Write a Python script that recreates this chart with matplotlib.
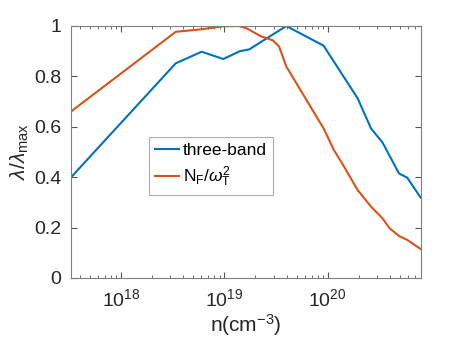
import numpy as np
import matplotlib
matplotlib.use("Agg")
import matplotlib.pyplot as plt
from matplotlib.ticker import FixedLocator, FixedFormatter, LogLocator, NullFormatter

# log10 of carrier density and normalised lambda
blue_logn = [17.45, 18.53, 18.78, 18.99, 19.15, 19.24, 19.41, 19.60, 19.96,
             20.29, 20.42, 20.53, 20.69, 20.77, 20.90]
blue_lam = [0.37, 0.852, 0.898, 0.869, 0.90, 0.907, 0.951, 1.0, 0.922,
            0.713, 0.593, 0.538, 0.415, 0.398, 0.319]

orange_logn = [17.45, 18.53, 18.78, 18.99, 19.14, 19.22, 19.35, 19.47, 19.53,
               19.60, 19.96, 20.06, 20.15, 20.29, 20.42, 20.53, 20.60, 20.69,
               20.77, 20.90]
orange_lam = [0.64, 0.977, 0.987, 0.999, 1.0, 0.99, 0.96, 0.943, 0.918,
              0.839, 0.594, 0.508, 0.448, 0.349, 0.283, 0.237, 0.197, 0.167,
              0.151, 0.115]

y_ticks = [0, 0.2, 0.4, 0.6, 0.8, 1]
y_tick_labels = ["0", "0.2", "0.4", "0.6", "0.8", "1"]

plt.rcParams['font.family'] = ['Liberation Sans', 'DejaVu Sans']
plt.rcParams['mathtext.fontset'] = 'custom'
plt.rcParams['mathtext.rm'] = 'Liberation Sans'
plt.rcParams['mathtext.it'] = 'Liberation Sans:italic'

fig = plt.figure(figsize=(4.64, 3.48), dpi=100)
ax = fig.add_axes([71 / 464, 1 - 278 / 348, 350 / 464, 252 / 348])

ax.plot(10 ** np.array(blue_logn), blue_lam, color='#0072BD', lw=1.5,
        label='three-band')
ax.plot(10 ** np.array(orange_logn), orange_lam, color='#D95319', lw=1.5,
        label=r'N$_\mathrm{F}$/$\omega_\mathrm{T}^2$')

ax.set_xscale('log')
ax.set_xlim(10 ** 17.516, 10 ** 20.903)
ax.set_ylim(0, 1)
ax.yaxis.set_major_locator(FixedLocator(y_ticks))
ax.yaxis.set_major_formatter(FixedFormatter(y_tick_labels))
ax.xaxis.set_major_locator(LogLocator(base=10, numticks=10))
ax.xaxis.set_minor_locator(LogLocator(base=10, subs=np.arange(2, 10), numticks=20))
ax.xaxis.set_minor_formatter(NullFormatter())

edge = '#808080'
for s in ax.spines.values():
    s.set_color(edge)
    s.set_linewidth(0.8)
ax.tick_params(which='both', direction='in', top=True, right=True,
               color='#555555', labelsize=14, labelcolor='#262626')
ax.tick_params(which='major', length=4)
ax.tick_params(which='minor', length=2)
ax.tick_params(axis='x', pad=7)
ax.tick_params(axis='y', pad=7)

ax.set_xlabel(r'n(cm$^{-3}$)', fontsize=15, color='#262626', labelpad=2)
ax.set_ylabel(r'$\lambda$/$\lambda_\mathrm{max}$', fontsize=15, color='#262626',
              labelpad=2)

leg = ax.legend(loc='upper left', bbox_to_anchor=(78 / 350, 1 - 111 / 252),
                fontsize=12.5, frameon=True, fancybox=False, handlelength=1.4,
                handletextpad=0.2, borderpad=0.35, labelspacing=0.35,
                borderaxespad=0)
leg.get_frame().set_edgecolor('#999999')
leg.get_frame().set_linewidth(0.8)

fig.savefig('out.png', dpi=100)
